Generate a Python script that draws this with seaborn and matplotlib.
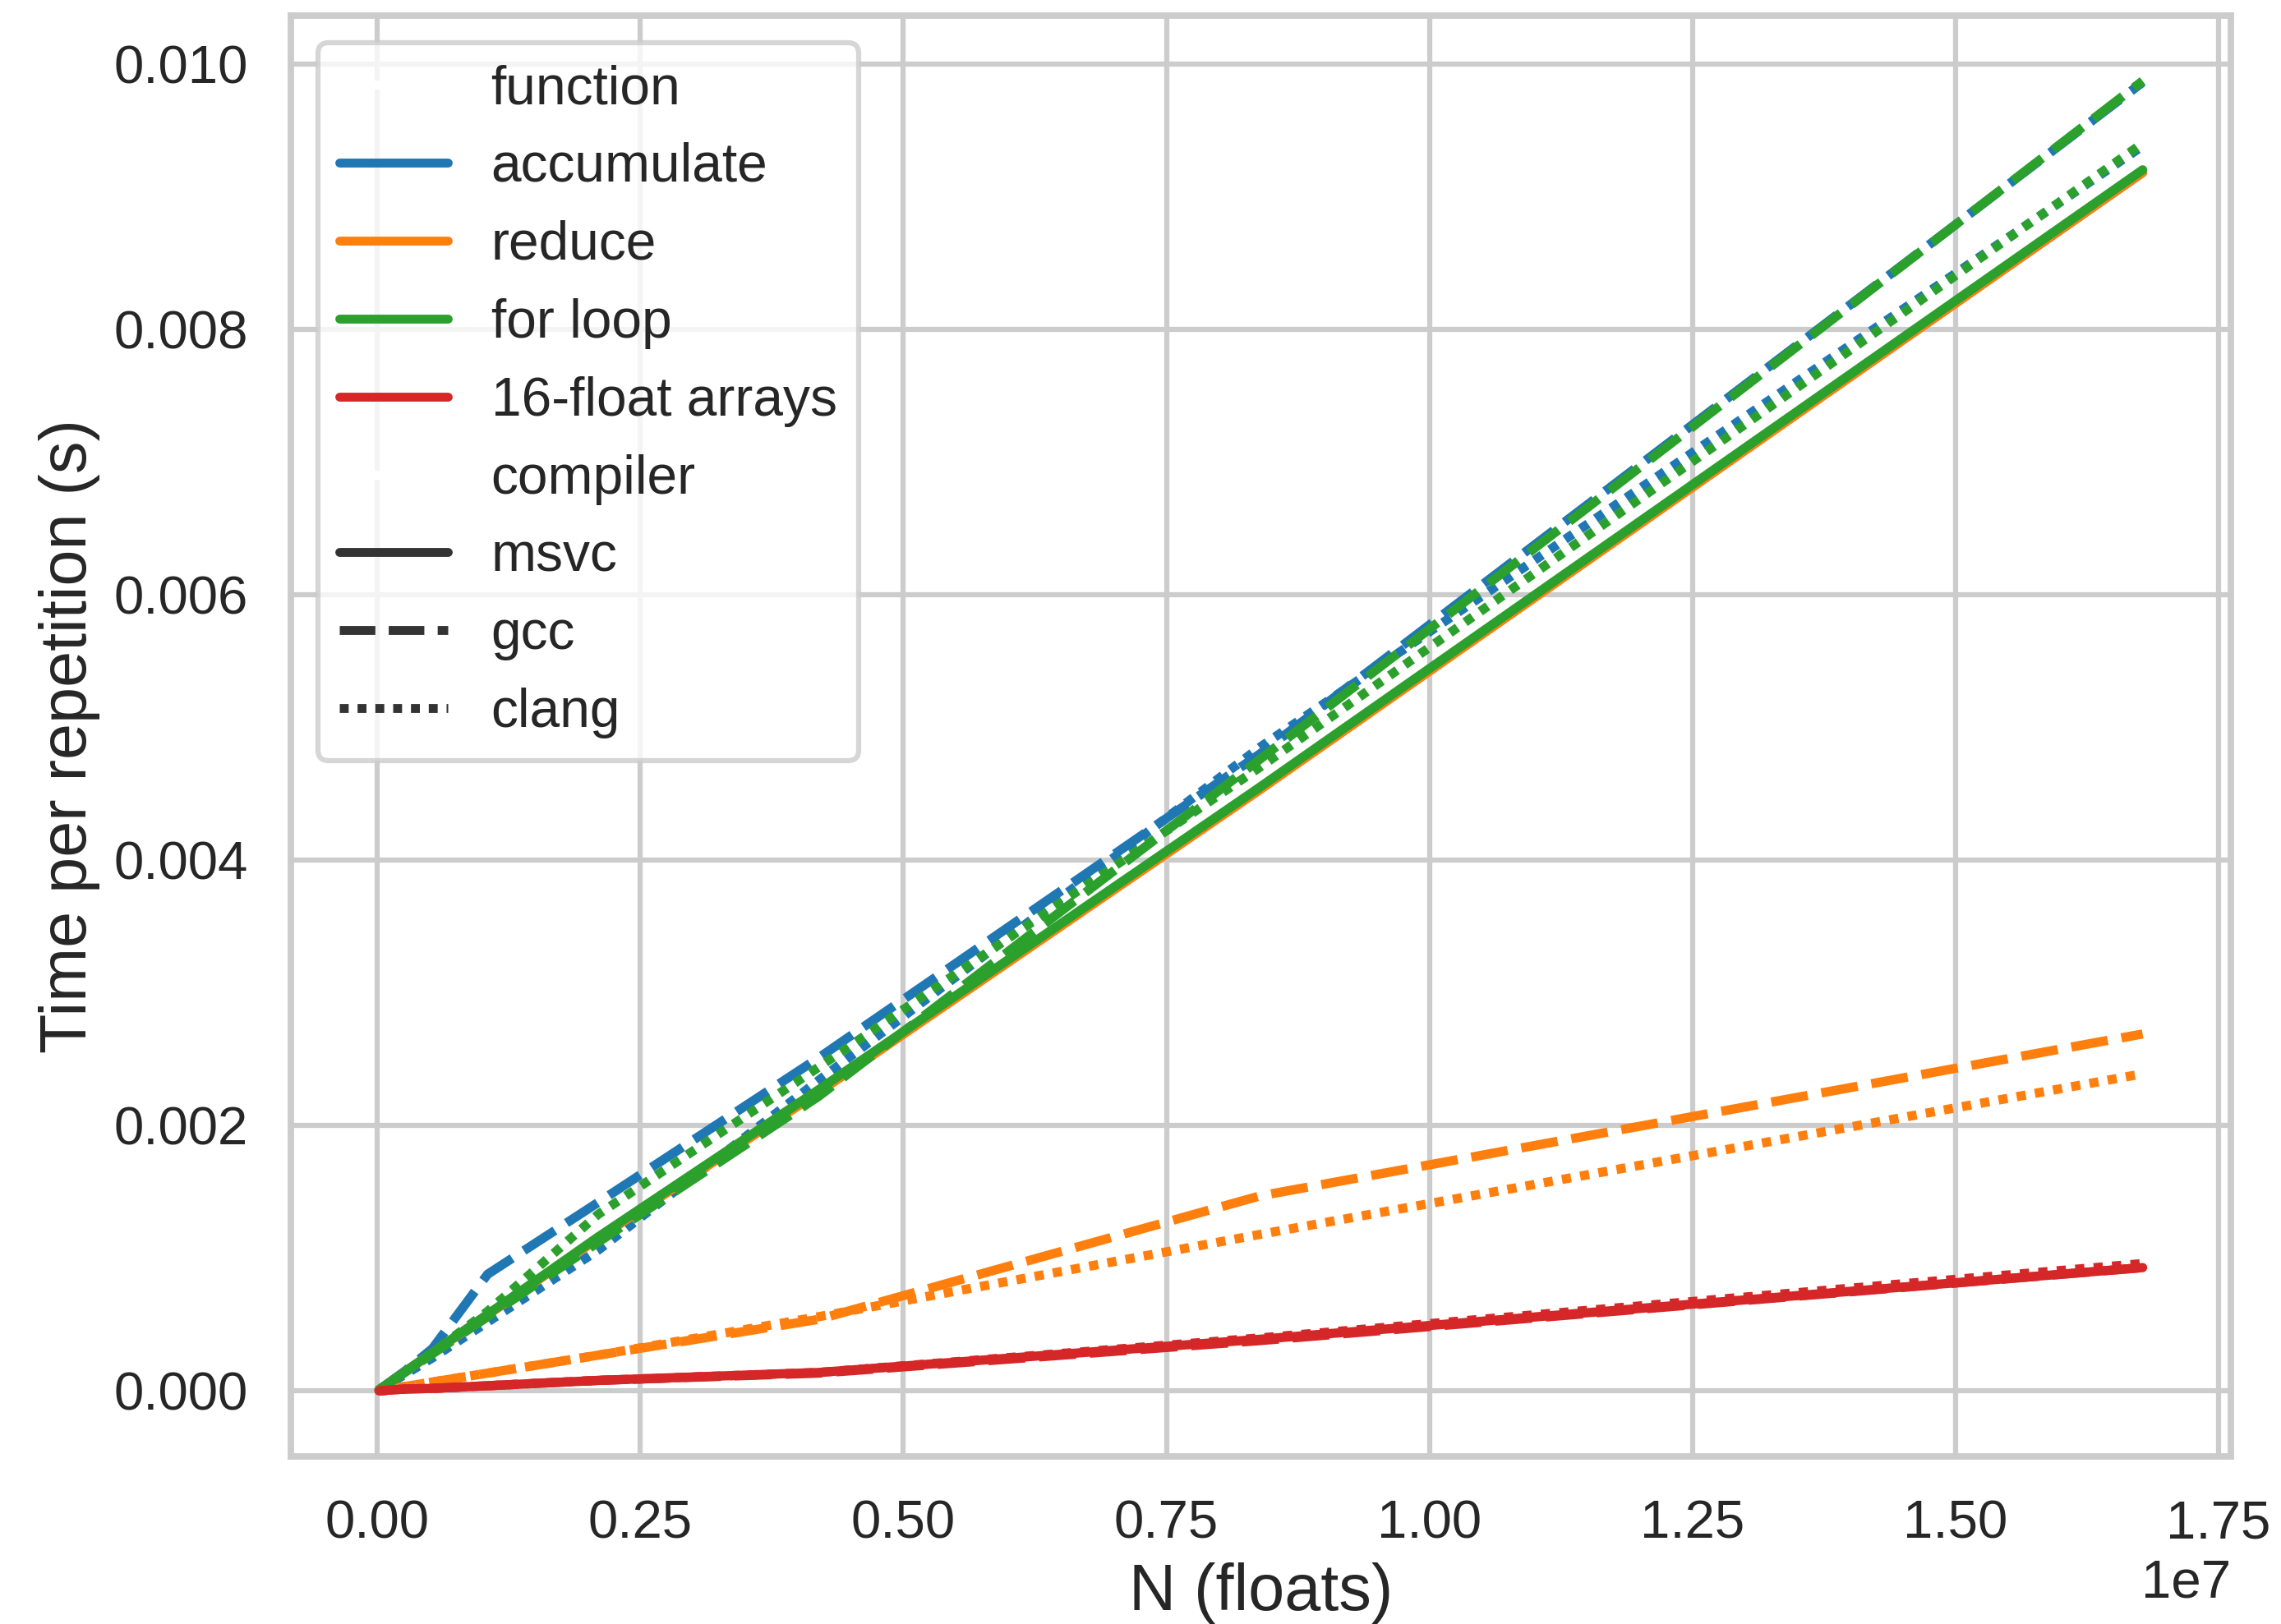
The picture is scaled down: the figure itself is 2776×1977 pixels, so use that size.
import numpy as np
import pandas as pd
import matplotlib
matplotlib.use("Agg")
import matplotlib.pyplot as plt
import seaborn as sns

# ---- data ----
N = [16384, 32768, 65536, 131072, 262144, 524288, 1048576, 2097152,
     4194304, 8388608, 16777216]

functions = ["accumulate", "reduce", "for loop", "16-float arrays"]
compilers = ["msvc", "gcc", "clang"]

msvc_accumulate = [0.000009, 0.000018, 0.000036, 0.000072, 0.000144, 0.00029, 0.000575, 0.00115, 0.00226, 0.00454, 0.00918]
msvc_reduce = [0.000009, 0.000018, 0.000036, 0.000072, 0.000144, 0.000289, 0.000573, 0.00115, 0.00225, 0.00453, 0.00918]
msvc_forloop = [0.000009, 0.000018, 0.000036, 0.000072, 0.000145, 0.00029, 0.000578, 0.00116, 0.00227, 0.00455, 0.00920]
msvc_arrays = [0.000001, 0.000002, 0.000004, 0.000008, 0.000015, 0.00002, 0.00004, 0.00008, 0.00014, 0.00039, 0.00093]

gcc_accumulate = [0.000009, 0.000018, 0.000037, 0.000075, 0.00015, 0.00032, 0.00088, 0.00142, 0.00251, 0.00480, 0.00986]
gcc_reduce = [0.000002, 0.000004, 0.000009, 0.000017, 0.000034, 0.000068, 0.000135, 0.00027, 0.00054, 0.00147, 0.00269]
gcc_forloop = [0.000009, 0.000018, 0.000035, 0.00007, 0.00014, 0.00028, 0.00056, 0.00112, 0.00222, 0.00476, 0.00987]
gcc_arrays = [0.000001, 0.000002, 0.000004, 0.000008, 0.000015, 0.00002, 0.00004, 0.00008, 0.000135, 0.00038, 0.00093]

clang_accumulate = [0.000008, 0.000016, 0.000032, 0.000063, 0.000125, 0.00025, 0.00052, 0.00106, 0.00234, 0.00485, 0.00938]
clang_reduce = [0.000002, 0.000004, 0.000009, 0.000017, 0.000034, 0.000068, 0.000135, 0.00027, 0.00056, 0.00118, 0.00239]
clang_forloop = [0.000009, 0.000018, 0.000036, 0.000072, 0.000145, 0.00029, 0.0006, 0.00133, 0.00244, 0.0047, 0.0094]
clang_arrays = [0.000001, 0.000002, 0.000004, 0.000008, 0.000015, 0.00002, 0.00004, 0.00008, 0.00014, 0.00040, 0.00096]

series = {
    ("accumulate", "msvc"): msvc_accumulate,
    ("reduce", "msvc"): msvc_reduce,
    ("for loop", "msvc"): msvc_forloop,
    ("16-float arrays", "msvc"): msvc_arrays,
    ("accumulate", "gcc"): gcc_accumulate,
    ("reduce", "gcc"): gcc_reduce,
    ("for loop", "gcc"): gcc_forloop,
    ("16-float arrays", "gcc"): gcc_arrays,
    ("accumulate", "clang"): clang_accumulate,
    ("reduce", "clang"): clang_reduce,
    ("for loop", "clang"): clang_forloop,
    ("16-float arrays", "clang"): clang_arrays,
}

rows = []
for (fn, comp), vals in series.items():
    for n, t in zip(N, vals):
        rows.append({"N": n, "time": t, "function": fn, "compiler": comp})
df = pd.DataFrame(rows)

# ---- style ----
sns.set_theme(context="talk", style="whitegrid",
              rc={"xtick.labelsize": 15.7, "ytick.labelsize": 15.7,
                  "axes.labelsize": 19, "legend.fontsize": 15.8,
                  "lines.linewidth": 2.7})
plt.rcParams["font.family"] = ["Liberation Sans", "DejaVu Sans"]

fig = plt.figure(figsize=(2776 / 300, 1977 / 300), dpi=300)
ax = fig.add_axes([0.1275, 0.1032, 0.978 - 0.1275, 0.9905 - 0.1032])

sns.lineplot(data=df, x="N", y="time", hue="function", style="compiler",
             hue_order=functions, style_order=compilers,
             palette="tab10", estimator=None, linewidth=2.7, ax=ax)

ax.set_xlabel("N (floats)")
ax.set_ylabel("Time per repetition (s)")
sns.move_legend(ax, "upper left")
for line in ax.get_legend().get_lines():
    line.set_linewidth(2.6)

fig.savefig("out.png", dpi=300)
